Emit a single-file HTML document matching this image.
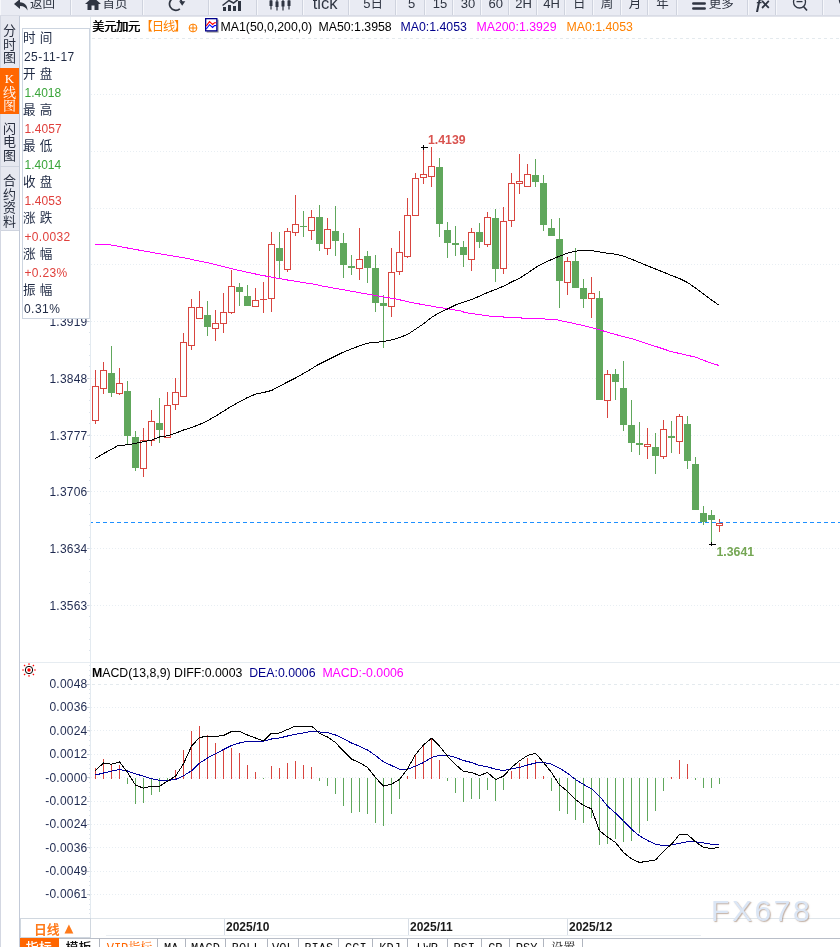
<!DOCTYPE html>
<html lang="zh-CN">
<head>
<meta charset="utf-8">
<title>美元加元 日线</title>
<style>
html,body{margin:0;padding:0;background:#fff;}
body{width:840px;height:947px;position:relative;overflow:hidden;font-family:"Liberation Sans","Noto Sans CJK SC",sans-serif;color:#1f2a44;}
#wrap{position:absolute;left:0;top:0;width:840px;height:947px;overflow:hidden;background:#fff;}
#toolbar{position:absolute;left:0;top:0;width:840px;height:17px;background:linear-gradient(#e9ebf3 0,#e9ebf3 15px,#d9dce6 15px,#d9dce6 16px,#e2e4eb 16px,#e2e4eb 17px);box-sizing:border-box;overflow:hidden;}
.tb{position:absolute;top:0;height:15px;box-sizing:border-box;border-left:1px solid #f6f7fb;border-right:1px solid #cfd3de;overflow:hidden;color:#2f3542;}
.tb span{position:absolute;top:-5px;font-size:13px;line-height:18px;white-space:nowrap;}
.tb span.c{font-size:12.5px;top:-5px;}
.tb span span.c2{position:static;font-size:12.5px;}
.tb .ic{position:absolute;}
#side{position:absolute;left:0;top:16px;width:20px;height:931px;background:#e6e8f0;border-right:1px solid #c3cad8;box-sizing:border-box;}
#side .edge{position:absolute;left:0;top:0;width:1px;height:100%;background:#d3d7e2;}
.stab{position:absolute;left:0;width:19px;text-align:center;font-size:13px;line-height:13.6px;color:#2a3040;box-sizing:border-box;}
.stab.on{background:#ff6600;color:#fff;font-family:"Liberation Serif","Noto Serif CJK SC",serif;}
.stab i{display:block;font-style:normal;}
#sidewhite{position:absolute;left:1px;top:214px;width:18px;height:716px;background:#fff;border-top:1px solid #cfd4df;}
#info{position:absolute;left:22px;top:28px;width:68px;height:291px;border:1px solid #cdd5e0;box-sizing:border-box;background:#fff;}
.row{height:18px;line-height:18px;font-size:12.5px;padding-left:1px;white-space:nowrap;}
.row.k{color:#1f2a44;font-size:12.6px;padding-left:0;word-spacing:.6px;}
.row.r.rp{letter-spacing:.32px;}
.row.v{color:#1f2a44;padding-left:1px;position:relative;top:1px;letter-spacing:.45px;font-size:12px;}
.row.g{color:#3aa53a;padding-left:1.5px;position:relative;top:1px;letter-spacing:0;font-size:12px;}
.row.r{color:#e0403c;padding-left:1.5px;position:relative;top:1px;letter-spacing:.1px;font-size:12px;}
#title{position:absolute;left:0;top:19.3px;height:16px;width:840px;font-size:12.3px;line-height:16px;white-space:nowrap;}
#title span{position:absolute;top:0;}
.yl{position:absolute;left:20px;width:67.4px;letter-spacing:.2px;text-align:right;font-size:12px;line-height:16px;color:#1f2a50;}
#axis{position:absolute;left:90px;top:16px;width:1px;height:903px;background:#e3eaf0;}
#sep{position:absolute;left:20px;top:662px;width:820px;height:1px;background:#e6ecf1;}
#bot{position:absolute;left:20px;top:918px;width:820px;height:1px;background:#dfe5ea;}
#period{position:absolute;left:20px;top:918px;width:71px;height:20px;border:1px solid #d0d7df;box-sizing:border-box;background:#fff;color:#ff7a1a;font-weight:bold;font-size:12.8px;line-height:20px;}
.dl{position:absolute;top:919px;font-size:12px;font-weight:bold;line-height:16px;color:#1a1a1a;border-left:1px solid #d8dee6;padding-left:1px;}
#tabs{position:absolute;left:20px;top:938px;width:820px;height:9px;border-top:1px solid #b9bec8;box-sizing:border-box;background:#fff;}
.tab{position:absolute;top:938px;height:9px;box-sizing:border-box;border-right:1px solid #b0b5bf;border-top:1px solid #b9bec8;text-align:center;font-size:12px;line-height:14px;overflow:hidden;font-family:"Liberation Mono","Noto Serif CJK SC",serif;color:#111;background:#fff;padding-top:2.5px;}
.tab.on{background:#ff6600;color:#fff;border-color:#ff6600;font-family:"Liberation Sans","Noto Sans CJK SC",sans-serif;font-size:13px;font-weight:500;padding-top:2px;}
.tab.b{font-family:"Liberation Sans","Noto Sans CJK SC",sans-serif;font-size:13px;font-weight:500;padding-top:2px;}
.tab.vip{color:#ff6600;padding-left:3px;}
#wm{position:absolute;left:711px;top:894px;font-size:30px;line-height:34px;font-family:"Liberation Sans",sans-serif;letter-spacing:2.6px;color:#dbe6f5;text-shadow:1px 1px 1.2px rgba(150,120,100,.6);}
</style>
</head>
<body>
<div id="wrap">
<svg width="840" height="947" viewBox="0 0 840 947" style="position:absolute;left:0;top:0" shape-rendering="crispEdges">
<line x1="92" y1="38.5" x2="840" y2="38.5" stroke="#e4eaee" stroke-width="1" stroke-dasharray="3 3"/>
<line x1="91" y1="94.5" x2="840" y2="94.5" stroke="#e8eef3" stroke-width="1" stroke-dasharray="1 2"/>
<line x1="91" y1="151.5" x2="840" y2="151.5" stroke="#e8eef3" stroke-width="1" stroke-dasharray="1 2"/>
<line x1="91" y1="208.5" x2="840" y2="208.5" stroke="#e8eef3" stroke-width="1" stroke-dasharray="1 2"/>
<line x1="91" y1="264.5" x2="840" y2="264.5" stroke="#e8eef3" stroke-width="1" stroke-dasharray="1 2"/>
<line x1="91" y1="321.5" x2="840" y2="321.5" stroke="#e8eef3" stroke-width="1" stroke-dasharray="1 2"/>
<line x1="91" y1="378.5" x2="840" y2="378.5" stroke="#e8eef3" stroke-width="1" stroke-dasharray="1 2"/>
<line x1="91" y1="435.5" x2="840" y2="435.5" stroke="#e8eef3" stroke-width="1" stroke-dasharray="1 2"/>
<line x1="91" y1="491.5" x2="840" y2="491.5" stroke="#e8eef3" stroke-width="1" stroke-dasharray="1 2"/>
<line x1="91" y1="548.5" x2="840" y2="548.5" stroke="#e8eef3" stroke-width="1" stroke-dasharray="1 2"/>
<line x1="91" y1="605.5" x2="840" y2="605.5" stroke="#e8eef3" stroke-width="1" stroke-dasharray="1 2"/>
<line x1="92" y1="684.5" x2="840" y2="684.5" stroke="#e4eaee" stroke-width="1" stroke-dasharray="3 3"/>
<line x1="91" y1="707.5" x2="840" y2="707.5" stroke="#e8eef3" stroke-width="1" stroke-dasharray="1 2"/>
<line x1="91" y1="730.5" x2="840" y2="730.5" stroke="#e8eef3" stroke-width="1" stroke-dasharray="1 2"/>
<line x1="91" y1="754.5" x2="840" y2="754.5" stroke="#e8eef3" stroke-width="1" stroke-dasharray="1 2"/>
<line x1="91" y1="777.5" x2="840" y2="777.5" stroke="#e8eef3" stroke-width="1" stroke-dasharray="1 2"/>
<line x1="91" y1="801.5" x2="840" y2="801.5" stroke="#e8eef3" stroke-width="1" stroke-dasharray="1 2"/>
<line x1="91" y1="824.5" x2="840" y2="824.5" stroke="#e8eef3" stroke-width="1" stroke-dasharray="1 2"/>
<line x1="91" y1="847.5" x2="840" y2="847.5" stroke="#e8eef3" stroke-width="1" stroke-dasharray="1 2"/>
<line x1="91" y1="871.5" x2="840" y2="871.5" stroke="#e8eef3" stroke-width="1" stroke-dasharray="1 2"/>
<line x1="91" y1="894.5" x2="840" y2="894.5" stroke="#e8eef3" stroke-width="1" stroke-dasharray="1 2"/>
<rect x="95" y="370" width="1" height="16" fill="#d8453f"/>
<rect x="95" y="421" width="1" height="3" fill="#d8453f"/>
<rect x="92.5" y="386.5" width="6" height="34" fill="#fff" stroke="#d8453f" stroke-width="1"/>
<rect x="103" y="362" width="1" height="8" fill="#d8453f"/>
<rect x="103" y="389" width="1" height="5" fill="#d8453f"/>
<rect x="100.5" y="370.5" width="6" height="18" fill="#fff" stroke="#d8453f" stroke-width="1"/>
<rect x="111" y="346" width="1" height="51" fill="#60a75c"/>
<rect x="108" y="373" width="7" height="20" fill="#60a75c"/>
<rect x="119" y="368" width="1" height="15" fill="#d8453f"/>
<rect x="119" y="394" width="1" height="1" fill="#d8453f"/>
<rect x="116.5" y="383.5" width="6" height="10" fill="#fff" stroke="#d8453f" stroke-width="1"/>
<rect x="127" y="381" width="1" height="63" fill="#60a75c"/>
<rect x="124" y="391" width="7" height="45" fill="#60a75c"/>
<rect x="135" y="431" width="1" height="40" fill="#60a75c"/>
<rect x="132" y="437" width="7" height="31" fill="#60a75c"/>
<rect x="143" y="428" width="1" height="12" fill="#d8453f"/>
<rect x="143" y="469" width="1" height="8" fill="#d8453f"/>
<rect x="140.5" y="440.5" width="6" height="28" fill="#fff" stroke="#d8453f" stroke-width="1"/>
<rect x="151" y="410" width="1" height="11" fill="#d8453f"/>
<rect x="151" y="441" width="1" height="5" fill="#d8453f"/>
<rect x="148.5" y="421.5" width="6" height="19" fill="#fff" stroke="#d8453f" stroke-width="1"/>
<rect x="159" y="398" width="1" height="45" fill="#60a75c"/>
<rect x="156" y="423" width="7" height="7" fill="#60a75c"/>
<rect x="167" y="392" width="1" height="13" fill="#d8453f"/>
<rect x="164.5" y="405.5" width="6" height="32" fill="#fff" stroke="#d8453f" stroke-width="1"/>
<rect x="175" y="378" width="1" height="14" fill="#d8453f"/>
<rect x="175" y="405" width="1" height="5" fill="#d8453f"/>
<rect x="172.5" y="392.5" width="6" height="12" fill="#fff" stroke="#d8453f" stroke-width="1"/>
<rect x="183" y="333" width="1" height="9" fill="#d8453f"/>
<rect x="180.5" y="342.5" width="6" height="54" fill="#fff" stroke="#d8453f" stroke-width="1"/>
<rect x="191" y="299" width="1" height="8" fill="#d8453f"/>
<rect x="191" y="346" width="1" height="4" fill="#d8453f"/>
<rect x="188.5" y="307.5" width="6" height="38" fill="#fff" stroke="#d8453f" stroke-width="1"/>
<rect x="199" y="291" width="1" height="16" fill="#d8453f"/>
<rect x="196.5" y="307.5" width="6" height="11" fill="#fff" stroke="#d8453f" stroke-width="1"/>
<rect x="207" y="301" width="1" height="35" fill="#60a75c"/>
<rect x="204" y="315" width="7" height="12" fill="#60a75c"/>
<rect x="215" y="310" width="1" height="13" fill="#d8453f"/>
<rect x="215" y="329" width="1" height="12" fill="#d8453f"/>
<rect x="212.5" y="323.5" width="6" height="5" fill="#fff" stroke="#d8453f" stroke-width="1"/>
<rect x="223" y="293" width="1" height="19" fill="#d8453f"/>
<rect x="223" y="324" width="1" height="9" fill="#d8453f"/>
<rect x="220.5" y="312.5" width="6" height="11" fill="#fff" stroke="#d8453f" stroke-width="1"/>
<rect x="231" y="270" width="1" height="16" fill="#d8453f"/>
<rect x="231" y="313" width="1" height="1" fill="#d8453f"/>
<rect x="228.5" y="286.5" width="6" height="26" fill="#fff" stroke="#d8453f" stroke-width="1"/>
<rect x="239" y="283" width="1" height="23" fill="#60a75c"/>
<rect x="236" y="287" width="7" height="5" fill="#60a75c"/>
<rect x="247" y="285" width="1" height="21" fill="#60a75c"/>
<rect x="244" y="296" width="7" height="10" fill="#60a75c"/>
<rect x="255" y="288" width="1" height="12" fill="#d8453f"/>
<rect x="252.5" y="300.5" width="6" height="6" fill="#fff" stroke="#d8453f" stroke-width="1"/>
<rect x="263" y="282" width="1" height="17" fill="#d8453f"/>
<rect x="263" y="300" width="1" height="13" fill="#d8453f"/>
<rect x="260" y="299" width="7" height="1" fill="#d8453f"/>
<rect x="271" y="232" width="1" height="12" fill="#d8453f"/>
<rect x="271" y="299" width="1" height="13" fill="#d8453f"/>
<rect x="268.5" y="244.5" width="6" height="54" fill="#fff" stroke="#d8453f" stroke-width="1"/>
<rect x="279" y="232" width="1" height="46" fill="#60a75c"/>
<rect x="276" y="248" width="7" height="13" fill="#60a75c"/>
<rect x="287" y="228" width="1" height="3" fill="#d8453f"/>
<rect x="287" y="270" width="1" height="2" fill="#d8453f"/>
<rect x="284.5" y="231.5" width="6" height="38" fill="#fff" stroke="#d8453f" stroke-width="1"/>
<rect x="295" y="195" width="1" height="29" fill="#d8453f"/>
<rect x="295" y="233" width="1" height="3" fill="#d8453f"/>
<rect x="292.5" y="224.5" width="6" height="8" fill="#fff" stroke="#d8453f" stroke-width="1"/>
<rect x="303" y="211" width="1" height="26" fill="#60a75c"/>
<rect x="300" y="226" width="7" height="1" fill="#60a75c"/>
<rect x="311" y="210" width="1" height="7" fill="#d8453f"/>
<rect x="311" y="231" width="1" height="9" fill="#d8453f"/>
<rect x="308.5" y="217.5" width="6" height="13" fill="#fff" stroke="#d8453f" stroke-width="1"/>
<rect x="319" y="205" width="1" height="46" fill="#60a75c"/>
<rect x="316" y="217" width="7" height="27" fill="#60a75c"/>
<rect x="327" y="218" width="1" height="11" fill="#d8453f"/>
<rect x="327" y="249" width="1" height="6" fill="#d8453f"/>
<rect x="324.5" y="229.5" width="6" height="19" fill="#fff" stroke="#d8453f" stroke-width="1"/>
<rect x="335" y="206" width="1" height="50" fill="#60a75c"/>
<rect x="332" y="231" width="7" height="10" fill="#60a75c"/>
<rect x="343" y="233" width="1" height="45" fill="#60a75c"/>
<rect x="340" y="243" width="7" height="22" fill="#60a75c"/>
<rect x="351" y="255" width="1" height="20" fill="#60a75c"/>
<rect x="348" y="266" width="7" height="2" fill="#60a75c"/>
<rect x="359" y="228" width="1" height="31" fill="#d8453f"/>
<rect x="359" y="269" width="1" height="11" fill="#d8453f"/>
<rect x="356.5" y="259.5" width="6" height="9" fill="#fff" stroke="#d8453f" stroke-width="1"/>
<rect x="367" y="251" width="1" height="32" fill="#60a75c"/>
<rect x="364" y="256" width="7" height="12" fill="#60a75c"/>
<rect x="375" y="255" width="1" height="57" fill="#60a75c"/>
<rect x="372" y="268" width="7" height="35" fill="#60a75c"/>
<rect x="383" y="295" width="1" height="53" fill="#60a75c"/>
<rect x="380" y="303" width="7" height="3" fill="#60a75c"/>
<rect x="391" y="248" width="1" height="24" fill="#d8453f"/>
<rect x="391" y="307" width="1" height="10" fill="#d8453f"/>
<rect x="388.5" y="272.5" width="6" height="34" fill="#fff" stroke="#d8453f" stroke-width="1"/>
<rect x="399" y="231" width="1" height="21" fill="#d8453f"/>
<rect x="399" y="272" width="1" height="3" fill="#d8453f"/>
<rect x="396.5" y="252.5" width="6" height="19" fill="#fff" stroke="#d8453f" stroke-width="1"/>
<rect x="407" y="198" width="1" height="17" fill="#d8453f"/>
<rect x="407" y="257" width="1" height="1" fill="#d8453f"/>
<rect x="404.5" y="215.5" width="6" height="41" fill="#fff" stroke="#d8453f" stroke-width="1"/>
<rect x="415" y="173" width="1" height="5" fill="#d8453f"/>
<rect x="412.5" y="178.5" width="6" height="37" fill="#fff" stroke="#d8453f" stroke-width="1"/>
<rect x="423" y="147" width="1" height="27" fill="#d8453f"/>
<rect x="423" y="178" width="1" height="6" fill="#d8453f"/>
<rect x="420.5" y="174.5" width="6" height="3" fill="#fff" stroke="#d8453f" stroke-width="1"/>
<rect x="431" y="147" width="1" height="19" fill="#d8453f"/>
<rect x="431" y="177" width="1" height="10" fill="#d8453f"/>
<rect x="428.5" y="166.5" width="6" height="10" fill="#fff" stroke="#d8453f" stroke-width="1"/>
<rect x="439" y="158" width="1" height="79" fill="#60a75c"/>
<rect x="436" y="167" width="7" height="57" fill="#60a75c"/>
<rect x="447" y="222" width="1" height="36" fill="#60a75c"/>
<rect x="444" y="230" width="7" height="13" fill="#60a75c"/>
<rect x="455" y="226" width="1" height="30" fill="#60a75c"/>
<rect x="452" y="243" width="7" height="2" fill="#60a75c"/>
<rect x="463" y="241" width="1" height="26" fill="#60a75c"/>
<rect x="460" y="247" width="7" height="8" fill="#60a75c"/>
<rect x="471" y="228" width="1" height="4" fill="#d8453f"/>
<rect x="471" y="260" width="1" height="11" fill="#d8453f"/>
<rect x="468.5" y="232.5" width="6" height="27" fill="#fff" stroke="#d8453f" stroke-width="1"/>
<rect x="479" y="223" width="1" height="25" fill="#60a75c"/>
<rect x="476" y="232" width="7" height="10" fill="#60a75c"/>
<rect x="487" y="212" width="1" height="5" fill="#d8453f"/>
<rect x="487" y="245" width="1" height="2" fill="#d8453f"/>
<rect x="484.5" y="217.5" width="6" height="27" fill="#fff" stroke="#d8453f" stroke-width="1"/>
<rect x="495" y="209" width="1" height="73" fill="#60a75c"/>
<rect x="492" y="218" width="7" height="51" fill="#60a75c"/>
<rect x="503" y="207" width="1" height="14" fill="#d8453f"/>
<rect x="503" y="269" width="1" height="5" fill="#d8453f"/>
<rect x="500.5" y="221.5" width="6" height="47" fill="#fff" stroke="#d8453f" stroke-width="1"/>
<rect x="511" y="173" width="1" height="10" fill="#d8453f"/>
<rect x="511" y="221" width="1" height="6" fill="#d8453f"/>
<rect x="508.5" y="183.5" width="6" height="37" fill="#fff" stroke="#d8453f" stroke-width="1"/>
<rect x="519" y="154" width="1" height="27" fill="#d8453f"/>
<rect x="519" y="184" width="1" height="10" fill="#d8453f"/>
<rect x="516.5" y="181.5" width="6" height="2" fill="#fff" stroke="#d8453f" stroke-width="1"/>
<rect x="527" y="164" width="1" height="10" fill="#d8453f"/>
<rect x="524.5" y="174.5" width="6" height="12" fill="#fff" stroke="#d8453f" stroke-width="1"/>
<rect x="535" y="159" width="1" height="28" fill="#60a75c"/>
<rect x="532" y="175" width="7" height="7" fill="#60a75c"/>
<rect x="543" y="175" width="1" height="56" fill="#60a75c"/>
<rect x="540" y="183" width="7" height="42" fill="#60a75c"/>
<rect x="551" y="219" width="1" height="17" fill="#60a75c"/>
<rect x="548" y="228" width="7" height="8" fill="#60a75c"/>
<rect x="559" y="218" width="1" height="90" fill="#60a75c"/>
<rect x="556" y="239" width="7" height="42" fill="#60a75c"/>
<rect x="567" y="257" width="1" height="4" fill="#d8453f"/>
<rect x="567" y="283" width="1" height="12" fill="#d8453f"/>
<rect x="564.5" y="261.5" width="6" height="21" fill="#fff" stroke="#d8453f" stroke-width="1"/>
<rect x="575" y="248" width="1" height="40" fill="#60a75c"/>
<rect x="572" y="261" width="7" height="27" fill="#60a75c"/>
<rect x="583" y="279" width="1" height="29" fill="#60a75c"/>
<rect x="580" y="288" width="7" height="11" fill="#60a75c"/>
<rect x="591" y="277" width="1" height="16" fill="#d8453f"/>
<rect x="591" y="299" width="1" height="19" fill="#d8453f"/>
<rect x="588.5" y="293.5" width="6" height="5" fill="#fff" stroke="#d8453f" stroke-width="1"/>
<rect x="599" y="291" width="1" height="109" fill="#60a75c"/>
<rect x="596" y="298" width="7" height="102" fill="#60a75c"/>
<rect x="607" y="370" width="1" height="4" fill="#d8453f"/>
<rect x="607" y="401" width="1" height="17" fill="#d8453f"/>
<rect x="604.5" y="374.5" width="6" height="26" fill="#fff" stroke="#d8453f" stroke-width="1"/>
<rect x="615" y="369" width="1" height="31" fill="#60a75c"/>
<rect x="612" y="374" width="7" height="8" fill="#60a75c"/>
<rect x="623" y="361" width="1" height="70" fill="#60a75c"/>
<rect x="620" y="388" width="7" height="37" fill="#60a75c"/>
<rect x="631" y="400" width="1" height="52" fill="#60a75c"/>
<rect x="628" y="425" width="7" height="18" fill="#60a75c"/>
<rect x="639" y="422" width="1" height="33" fill="#60a75c"/>
<rect x="636" y="443" width="7" height="2" fill="#60a75c"/>
<rect x="647" y="428" width="1" height="16" fill="#d8453f"/>
<rect x="647" y="447" width="1" height="12" fill="#d8453f"/>
<rect x="644.5" y="444.5" width="6" height="2" fill="#fff" stroke="#d8453f" stroke-width="1"/>
<rect x="655" y="433" width="1" height="41" fill="#60a75c"/>
<rect x="652" y="447" width="7" height="9" fill="#60a75c"/>
<rect x="663" y="420" width="1" height="9" fill="#d8453f"/>
<rect x="663" y="457" width="1" height="2" fill="#d8453f"/>
<rect x="660.5" y="429.5" width="6" height="27" fill="#fff" stroke="#d8453f" stroke-width="1"/>
<rect x="671" y="421" width="1" height="32" fill="#60a75c"/>
<rect x="668" y="436" width="7" height="2" fill="#60a75c"/>
<rect x="679" y="414" width="1" height="2" fill="#d8453f"/>
<rect x="679" y="442" width="1" height="12" fill="#d8453f"/>
<rect x="676.5" y="416.5" width="6" height="25" fill="#fff" stroke="#d8453f" stroke-width="1"/>
<rect x="687" y="416" width="1" height="53" fill="#60a75c"/>
<rect x="684" y="424" width="7" height="37" fill="#60a75c"/>
<rect x="695" y="457" width="1" height="53" fill="#60a75c"/>
<rect x="692" y="464" width="7" height="46" fill="#60a75c"/>
<rect x="703" y="506" width="1" height="19" fill="#60a75c"/>
<rect x="700" y="513" width="7" height="9" fill="#60a75c"/>
<rect x="711" y="510" width="1" height="35" fill="#60a75c"/>
<rect x="708" y="515" width="7" height="5" fill="#60a75c"/>
<rect x="719" y="519" width="1" height="4" fill="#d8453f"/>
<rect x="719" y="526" width="1" height="6" fill="#d8453f"/>
<rect x="716.5" y="523.5" width="6" height="2" fill="#fff" stroke="#d8453f" stroke-width="1"/>
<polyline points="95.2,244.1 106.2,244.1 119.3,246.5 132.4,248.9 158.6,253.6 184.8,258.0 211.0,263.5 237.2,270.0 260.0,275.0 285.0,279.6 296.0,281.4 316.0,284.5 319.8,285.6 343.6,289.8 367.4,294.1 385.0,297.2 396.0,298.9 410.0,302.3 435.0,306.8 460.0,310.8 465.0,312.5 490.0,316.2 515.0,317.7 540.0,318.9 554.0,319.2 565.0,321.6 582.5,325.3 595.0,328.5 607.5,332.2 620.0,335.7 632.5,338.9 645.0,343.0 657.5,347.0 670.0,351.2 682.5,354.2 695.0,357.0 707.5,361.8 719.0,365.5" fill="none" stroke="#ff00ff" stroke-width="1" stroke-linejoin="round"/>
<polyline points="95.2,458.5 103.5,453.6 111.5,449.3 118.2,445.5 127.5,444.8 135.5,443.4 143.5,441.6 151.5,440.1 159.5,437.0 167.5,435.8 175.5,433.2 183.5,430.0 191.5,427.5 199.5,424.5 207.5,420.8 215.5,416.2 223.5,411.2 231.5,406.2 239.5,401.8 247.5,397.5 255.5,394.2 263.5,392.5 271.5,390.5 279.5,386.2 287.5,382.0 295.5,378.0 303.5,373.5 311.5,368.8 317.5,365.0 327.5,360.0 342.5,352.5 355.0,347.5 367.5,343.2 383.5,341.5 391.5,340.0 399.5,337.5 407.5,334.5 415.5,329.2 423.5,323.8 431.5,317.5 439.5,312.5 447.5,309.0 455.5,305.0 463.5,302.2 471.5,299.5 479.5,296.2 487.5,292.5 495.5,289.5 503.5,286.2 511.5,282.0 519.5,278.2 527.5,273.2 535.5,267.5 543.5,263.2 551.5,259.5 559.5,256.2 567.5,253.2 575.5,251.2 583.5,250.2 591.5,250.5 599.5,252.0 607.5,253.2 615.5,254.2 623.5,256.2 631.5,259.2 639.5,262.5 647.5,265.8 655.5,269.0 663.5,272.2 671.5,275.5 679.5,278.5 687.5,282.5 695.5,288.0 703.5,294.0 711.5,300.0 719.5,305.5" fill="none" stroke="#000" stroke-width="1" stroke-linejoin="round"/>
<line x1="91" y1="522.5" x2="840" y2="522.5" stroke="#1e90ff" stroke-width="1.2" stroke-dasharray="4 3" stroke-dashoffset="2"/>
<path d="M421 147.5h7M423.5 145v5" stroke="#000" stroke-width="1" fill="none"/>
<path d="M709 544.5h7M711.5 542v4" stroke="#000" stroke-width="1" fill="none"/>
<text x="428" y="143.6" font-family="Liberation Sans, sans-serif" font-size="12.3" font-weight="bold" fill="#d9534f">1.4139</text>
<text x="716.5" y="556" font-family="Liberation Sans, sans-serif" font-size="12.3" font-weight="bold" fill="#74a653">1.3641</text>
<rect x="95" y="768" width="1" height="11" fill="#d8453f"/>
<rect x="103" y="759" width="1" height="20" fill="#d8453f"/>
<rect x="111" y="765" width="1" height="14" fill="#d8453f"/>
<rect x="119" y="765" width="1" height="14" fill="#d8453f"/>
<rect x="127" y="778" width="1" height="6" fill="#60a75c"/>
<rect x="135" y="778" width="1" height="26" fill="#60a75c"/>
<rect x="143" y="778" width="1" height="25" fill="#60a75c"/>
<rect x="151" y="778" width="1" height="17" fill="#60a75c"/>
<rect x="159" y="778" width="1" height="14" fill="#60a75c"/>
<rect x="167" y="778" width="1" height="3" fill="#60a75c"/>
<rect x="175" y="770" width="1" height="9" fill="#d8453f"/>
<rect x="183" y="750" width="1" height="29" fill="#d8453f"/>
<rect x="191" y="731" width="1" height="48" fill="#d8453f"/>
<rect x="199" y="726" width="1" height="53" fill="#d8453f"/>
<rect x="207" y="735" width="1" height="44" fill="#d8453f"/>
<rect x="215" y="743" width="1" height="36" fill="#d8453f"/>
<rect x="223" y="749" width="1" height="30" fill="#d8453f"/>
<rect x="231" y="748" width="1" height="31" fill="#d8453f"/>
<rect x="239" y="753" width="1" height="26" fill="#d8453f"/>
<rect x="247" y="765" width="1" height="14" fill="#d8453f"/>
<rect x="255" y="772" width="1" height="7" fill="#d8453f"/>
<rect x="263" y="778" width="1" height="1" fill="#60a75c"/>
<rect x="271" y="766" width="1" height="13" fill="#d8453f"/>
<rect x="279" y="768" width="1" height="11" fill="#d8453f"/>
<rect x="287" y="763" width="1" height="16" fill="#d8453f"/>
<rect x="295" y="761" width="1" height="18" fill="#d8453f"/>
<rect x="303" y="765" width="1" height="14" fill="#d8453f"/>
<rect x="311" y="767" width="1" height="12" fill="#d8453f"/>
<rect x="319" y="778" width="1" height="3" fill="#60a75c"/>
<rect x="327" y="778" width="1" height="8" fill="#60a75c"/>
<rect x="335" y="778" width="1" height="16" fill="#60a75c"/>
<rect x="343" y="778" width="1" height="28" fill="#60a75c"/>
<rect x="351" y="778" width="1" height="35" fill="#60a75c"/>
<rect x="359" y="778" width="1" height="34" fill="#60a75c"/>
<rect x="367" y="778" width="1" height="36" fill="#60a75c"/>
<rect x="375" y="778" width="1" height="45" fill="#60a75c"/>
<rect x="383" y="778" width="1" height="48" fill="#60a75c"/>
<rect x="391" y="778" width="1" height="36" fill="#60a75c"/>
<rect x="399" y="778" width="1" height="21" fill="#60a75c"/>
<rect x="407" y="776" width="1" height="3" fill="#d8453f"/>
<rect x="415" y="755" width="1" height="24" fill="#d8453f"/>
<rect x="423" y="744" width="1" height="35" fill="#d8453f"/>
<rect x="431" y="739" width="1" height="40" fill="#d8453f"/>
<rect x="439" y="760" width="1" height="19" fill="#d8453f"/>
<rect x="447" y="778" width="1" height="3" fill="#60a75c"/>
<rect x="455" y="778" width="1" height="15" fill="#60a75c"/>
<rect x="463" y="778" width="1" height="24" fill="#60a75c"/>
<rect x="471" y="778" width="1" height="21" fill="#60a75c"/>
<rect x="479" y="778" width="1" height="21" fill="#60a75c"/>
<rect x="487" y="778" width="1" height="12" fill="#60a75c"/>
<rect x="495" y="778" width="1" height="23" fill="#60a75c"/>
<rect x="503" y="778" width="1" height="12" fill="#60a75c"/>
<rect x="511" y="771" width="1" height="8" fill="#d8453f"/>
<rect x="519" y="763" width="1" height="16" fill="#d8453f"/>
<rect x="527" y="758" width="1" height="21" fill="#d8453f"/>
<rect x="535" y="760" width="1" height="19" fill="#d8453f"/>
<rect x="543" y="776" width="1" height="3" fill="#d8453f"/>
<rect x="551" y="778" width="1" height="13" fill="#60a75c"/>
<rect x="559" y="778" width="1" height="33" fill="#60a75c"/>
<rect x="567" y="778" width="1" height="36" fill="#60a75c"/>
<rect x="575" y="778" width="1" height="42" fill="#60a75c"/>
<rect x="583" y="778" width="1" height="45" fill="#60a75c"/>
<rect x="591" y="778" width="1" height="40" fill="#60a75c"/>
<rect x="599" y="778" width="1" height="67" fill="#60a75c"/>
<rect x="607" y="778" width="1" height="66" fill="#60a75c"/>
<rect x="615" y="778" width="1" height="61" fill="#60a75c"/>
<rect x="623" y="778" width="1" height="64" fill="#60a75c"/>
<rect x="631" y="778" width="1" height="63" fill="#60a75c"/>
<rect x="639" y="778" width="1" height="55" fill="#60a75c"/>
<rect x="647" y="778" width="1" height="43" fill="#60a75c"/>
<rect x="655" y="778" width="1" height="33" fill="#60a75c"/>
<rect x="663" y="778" width="1" height="13" fill="#60a75c"/>
<rect x="671" y="777" width="1" height="2" fill="#d8453f"/>
<rect x="679" y="760" width="1" height="19" fill="#d8453f"/>
<rect x="687" y="764" width="1" height="15" fill="#d8453f"/>
<rect x="695" y="778" width="1" height="2" fill="#60a75c"/>
<rect x="703" y="778" width="1" height="10" fill="#60a75c"/>
<rect x="711" y="778" width="1" height="10" fill="#60a75c"/>
<rect x="719" y="778" width="1" height="6" fill="#60a75c"/>
<polyline points="95.5,775.0 103.5,773.0 111.5,771.2 119.5,769.5 127.5,771.0 135.5,773.8 143.5,776.2 151.5,778.8 159.5,780.2 167.5,780.5 175.5,779.5 183.5,775.8 191.5,770.8 199.5,763.2 207.5,758.0 215.5,753.8 223.5,749.5 231.5,745.5 239.5,743.0 247.5,741.2 255.5,741.2 263.5,741.2 271.5,739.0 279.5,738.0 287.5,736.0 295.5,734.2 303.5,733.0 311.5,731.2 319.5,732.0 327.5,732.5 335.5,735.0 343.5,738.8 351.5,743.0 359.5,746.2 367.5,750.0 375.5,755.5 383.5,761.8 391.5,765.5 399.5,769.2 407.5,769.2 415.5,766.2 423.5,762.5 431.5,757.5 439.5,755.2 447.5,755.2 455.5,757.5 463.5,760.5 471.5,762.5 479.5,765.5 487.5,766.8 495.5,769.2 503.5,770.5 511.5,768.8 519.5,767.5 527.5,765.0 535.5,763.0 543.5,762.5 551.5,764.2 559.5,768.2 567.5,773.2 575.5,779.5 583.5,784.5 591.5,788.8 599.5,796.2 607.5,806.2 615.5,813.0 623.5,821.2 631.5,829.2 639.5,835.8 647.5,840.5 655.5,844.2 663.5,845.5 671.5,845.0 679.5,843.2 687.5,841.8 695.5,841.8 703.5,843.0 711.5,844.2 719.5,844.5" fill="none" stroke="#00009c" stroke-width="1" stroke-linejoin="round"/>
<polyline points="95.5,770.5 103.5,763.0 111.5,764.2 119.5,762.0 127.5,772.5 135.5,785.0 143.5,788.2 151.5,786.2 159.5,786.2 167.5,781.2 175.5,776.2 183.5,763.8 191.5,746.2 199.5,737.5 207.5,736.2 215.5,736.5 223.5,735.5 231.5,731.5 239.5,731.5 247.5,735.0 255.5,738.0 263.5,740.8 271.5,733.2 279.5,733.0 287.5,729.5 295.5,726.0 303.5,726.0 311.5,726.0 319.5,733.2 327.5,737.0 335.5,742.5 343.5,751.2 351.5,759.2 359.5,762.5 367.5,767.5 375.5,777.5 383.5,786.2 391.5,784.2 399.5,779.5 407.5,768.8 415.5,754.5 423.5,745.0 431.5,738.2 439.5,746.2 447.5,756.2 455.5,764.5 463.5,771.5 471.5,772.5 479.5,775.5 487.5,772.5 495.5,779.5 503.5,776.2 511.5,767.5 519.5,760.8 527.5,755.5 535.5,753.2 543.5,762.5 551.5,772.5 559.5,785.0 567.5,791.2 575.5,799.5 583.5,805.5 591.5,808.8 599.5,830.8 607.5,837.0 615.5,842.5 623.5,852.5 631.5,858.8 639.5,862.5 647.5,861.2 655.5,860.0 663.5,851.2 671.5,844.2 679.5,834.5 687.5,834.5 695.5,841.8 703.5,847.5 711.5,848.5 719.5,847.5" fill="none" stroke="#000" stroke-width="1" stroke-linejoin="round"/>
<line x1="87" y1="321.5" x2="90" y2="321.5" stroke="#c3cbd6" stroke-width="1"/>
<line x1="87" y1="378.5" x2="90" y2="378.5" stroke="#c3cbd6" stroke-width="1"/>
<line x1="87" y1="435.5" x2="90" y2="435.5" stroke="#c3cbd6" stroke-width="1"/>
<line x1="87" y1="491.5" x2="90" y2="491.5" stroke="#c3cbd6" stroke-width="1"/>
<line x1="87" y1="548.5" x2="90" y2="548.5" stroke="#c3cbd6" stroke-width="1"/>
<line x1="87" y1="605.5" x2="90" y2="605.5" stroke="#c3cbd6" stroke-width="1"/>
<line x1="87" y1="684.5" x2="90" y2="684.5" stroke="#c3cbd6" stroke-width="1"/>
<line x1="87" y1="707.5" x2="90" y2="707.5" stroke="#c3cbd6" stroke-width="1"/>
<line x1="87" y1="730.5" x2="90" y2="730.5" stroke="#c3cbd6" stroke-width="1"/>
<line x1="87" y1="754.5" x2="90" y2="754.5" stroke="#c3cbd6" stroke-width="1"/>
<line x1="87" y1="777.5" x2="90" y2="777.5" stroke="#c3cbd6" stroke-width="1"/>
<line x1="87" y1="801.5" x2="90" y2="801.5" stroke="#c3cbd6" stroke-width="1"/>
<line x1="87" y1="824.5" x2="90" y2="824.5" stroke="#c3cbd6" stroke-width="1"/>
<line x1="87" y1="847.5" x2="90" y2="847.5" stroke="#c3cbd6" stroke-width="1"/>
<line x1="87" y1="871.5" x2="90" y2="871.5" stroke="#c3cbd6" stroke-width="1"/>
<line x1="87" y1="894.5" x2="90" y2="894.5" stroke="#c3cbd6" stroke-width="1"/>
<rect x="89" y="49" width="1" height="1" fill="#dde4ec"/>
<rect x="89" y="60" width="1" height="1" fill="#dde4ec"/>
<rect x="89" y="71" width="1" height="1" fill="#dde4ec"/>
<rect x="89" y="83" width="1" height="1" fill="#dde4ec"/>
<rect x="89" y="94" width="1" height="1" fill="#dde4ec"/>
<rect x="89" y="105" width="1" height="1" fill="#dde4ec"/>
<rect x="89" y="117" width="1" height="1" fill="#dde4ec"/>
<rect x="89" y="128" width="1" height="1" fill="#dde4ec"/>
<rect x="89" y="139" width="1" height="1" fill="#dde4ec"/>
<rect x="89" y="151" width="1" height="1" fill="#dde4ec"/>
<rect x="89" y="162" width="1" height="1" fill="#dde4ec"/>
<rect x="89" y="174" width="1" height="1" fill="#dde4ec"/>
<rect x="89" y="185" width="1" height="1" fill="#dde4ec"/>
<rect x="89" y="196" width="1" height="1" fill="#dde4ec"/>
<rect x="89" y="208" width="1" height="1" fill="#dde4ec"/>
<rect x="89" y="219" width="1" height="1" fill="#dde4ec"/>
<rect x="89" y="230" width="1" height="1" fill="#dde4ec"/>
<rect x="89" y="242" width="1" height="1" fill="#dde4ec"/>
<rect x="89" y="253" width="1" height="1" fill="#dde4ec"/>
<rect x="89" y="264" width="1" height="1" fill="#dde4ec"/>
<rect x="89" y="276" width="1" height="1" fill="#dde4ec"/>
<rect x="89" y="287" width="1" height="1" fill="#dde4ec"/>
<rect x="89" y="298" width="1" height="1" fill="#dde4ec"/>
<rect x="89" y="310" width="1" height="1" fill="#dde4ec"/>
<rect x="89" y="321" width="1" height="1" fill="#dde4ec"/>
<rect x="89" y="332" width="1" height="1" fill="#dde4ec"/>
<rect x="89" y="344" width="1" height="1" fill="#dde4ec"/>
<rect x="89" y="355" width="1" height="1" fill="#dde4ec"/>
<rect x="89" y="366" width="1" height="1" fill="#dde4ec"/>
<rect x="89" y="378" width="1" height="1" fill="#dde4ec"/>
<rect x="89" y="389" width="1" height="1" fill="#dde4ec"/>
<rect x="89" y="400" width="1" height="1" fill="#dde4ec"/>
<rect x="89" y="412" width="1" height="1" fill="#dde4ec"/>
<rect x="89" y="423" width="1" height="1" fill="#dde4ec"/>
<rect x="89" y="434" width="1" height="1" fill="#dde4ec"/>
<rect x="89" y="446" width="1" height="1" fill="#dde4ec"/>
<rect x="89" y="457" width="1" height="1" fill="#dde4ec"/>
<rect x="89" y="468" width="1" height="1" fill="#dde4ec"/>
<rect x="89" y="480" width="1" height="1" fill="#dde4ec"/>
<rect x="89" y="491" width="1" height="1" fill="#dde4ec"/>
<rect x="89" y="503" width="1" height="1" fill="#dde4ec"/>
<rect x="89" y="514" width="1" height="1" fill="#dde4ec"/>
<rect x="89" y="525" width="1" height="1" fill="#dde4ec"/>
<rect x="89" y="537" width="1" height="1" fill="#dde4ec"/>
<rect x="89" y="548" width="1" height="1" fill="#dde4ec"/>
<rect x="89" y="559" width="1" height="1" fill="#dde4ec"/>
<rect x="89" y="571" width="1" height="1" fill="#dde4ec"/>
<rect x="89" y="582" width="1" height="1" fill="#dde4ec"/>
<rect x="89" y="593" width="1" height="1" fill="#dde4ec"/>
<rect x="89" y="605" width="1" height="1" fill="#dde4ec"/>
<rect x="89" y="616" width="1" height="1" fill="#dde4ec"/>
<rect x="89" y="627" width="1" height="1" fill="#dde4ec"/>
<rect x="89" y="639" width="1" height="1" fill="#dde4ec"/>
<rect x="89" y="650" width="1" height="1" fill="#dde4ec"/>
<rect x="89" y="665" width="1" height="1" fill="#dde4ec"/>
<rect x="89" y="670" width="1" height="1" fill="#dde4ec"/>
<rect x="89" y="675" width="1" height="1" fill="#dde4ec"/>
<rect x="89" y="679" width="1" height="1" fill="#dde4ec"/>
<rect x="89" y="684" width="1" height="1" fill="#dde4ec"/>
<rect x="89" y="689" width="1" height="1" fill="#dde4ec"/>
<rect x="89" y="693" width="1" height="1" fill="#dde4ec"/>
<rect x="89" y="698" width="1" height="1" fill="#dde4ec"/>
<rect x="89" y="703" width="1" height="1" fill="#dde4ec"/>
<rect x="89" y="707" width="1" height="1" fill="#dde4ec"/>
<rect x="89" y="712" width="1" height="1" fill="#dde4ec"/>
<rect x="89" y="717" width="1" height="1" fill="#dde4ec"/>
<rect x="89" y="721" width="1" height="1" fill="#dde4ec"/>
<rect x="89" y="726" width="1" height="1" fill="#dde4ec"/>
<rect x="89" y="731" width="1" height="1" fill="#dde4ec"/>
<rect x="89" y="735" width="1" height="1" fill="#dde4ec"/>
<rect x="89" y="740" width="1" height="1" fill="#dde4ec"/>
<rect x="89" y="745" width="1" height="1" fill="#dde4ec"/>
<rect x="89" y="750" width="1" height="1" fill="#dde4ec"/>
<rect x="89" y="754" width="1" height="1" fill="#dde4ec"/>
<rect x="89" y="759" width="1" height="1" fill="#dde4ec"/>
<rect x="89" y="764" width="1" height="1" fill="#dde4ec"/>
<rect x="89" y="768" width="1" height="1" fill="#dde4ec"/>
<rect x="89" y="773" width="1" height="1" fill="#dde4ec"/>
<rect x="89" y="778" width="1" height="1" fill="#dde4ec"/>
<rect x="89" y="782" width="1" height="1" fill="#dde4ec"/>
<rect x="89" y="787" width="1" height="1" fill="#dde4ec"/>
<rect x="89" y="792" width="1" height="1" fill="#dde4ec"/>
<rect x="89" y="796" width="1" height="1" fill="#dde4ec"/>
<rect x="89" y="801" width="1" height="1" fill="#dde4ec"/>
<rect x="89" y="806" width="1" height="1" fill="#dde4ec"/>
<rect x="89" y="810" width="1" height="1" fill="#dde4ec"/>
<rect x="89" y="815" width="1" height="1" fill="#dde4ec"/>
<rect x="89" y="820" width="1" height="1" fill="#dde4ec"/>
<rect x="89" y="824" width="1" height="1" fill="#dde4ec"/>
<rect x="89" y="829" width="1" height="1" fill="#dde4ec"/>
<rect x="89" y="834" width="1" height="1" fill="#dde4ec"/>
<rect x="89" y="838" width="1" height="1" fill="#dde4ec"/>
<rect x="89" y="843" width="1" height="1" fill="#dde4ec"/>
<rect x="89" y="848" width="1" height="1" fill="#dde4ec"/>
<rect x="89" y="852" width="1" height="1" fill="#dde4ec"/>
<rect x="89" y="857" width="1" height="1" fill="#dde4ec"/>
<rect x="89" y="862" width="1" height="1" fill="#dde4ec"/>
<rect x="89" y="867" width="1" height="1" fill="#dde4ec"/>
<rect x="89" y="871" width="1" height="1" fill="#dde4ec"/>
<rect x="89" y="876" width="1" height="1" fill="#dde4ec"/>
<rect x="89" y="881" width="1" height="1" fill="#dde4ec"/>
<rect x="89" y="885" width="1" height="1" fill="#dde4ec"/>
<rect x="89" y="890" width="1" height="1" fill="#dde4ec"/>
<rect x="89" y="895" width="1" height="1" fill="#dde4ec"/>
<rect x="89" y="899" width="1" height="1" fill="#dde4ec"/>
<rect x="89" y="904" width="1" height="1" fill="#dde4ec"/>
<rect x="89" y="909" width="1" height="1" fill="#dde4ec"/>
<rect x="89" y="913" width="1" height="1" fill="#dde4ec"/>
</svg>
<div id="axis"></div>
<div id="sep"></div>
<div id="bot"></div>
<div style="position:absolute;left:106px;top:935px;width:595px;height:1px;background:#ebeff3"></div>
<div class="yl" style="top:313.5px">1.3919</div>
<div class="yl" style="top:370.5px">1.3848</div>
<div class="yl" style="top:427.5px">1.3777</div>
<div class="yl" style="top:483.5px">1.3706</div>
<div class="yl" style="top:540.5px">1.3634</div>
<div class="yl" style="top:597.5px">1.3563</div>
<div class="yl" style="top:676.0px">0.0048</div>
<div class="yl" style="top:699.0px">0.0036</div>
<div class="yl" style="top:722.5px">0.0024</div>
<div class="yl" style="top:746.0px">0.0012</div>
<div class="yl" style="top:769.5px">-0.0000</div>
<div class="yl" style="top:793.0px">-0.0012</div>
<div class="yl" style="top:816.3px">-0.0024</div>
<div class="yl" style="top:839.5px">-0.0036</div>
<div class="yl" style="top:863.0px">-0.0049</div>
<div class="yl" style="top:886.3px">-0.0061</div>

<div id="toolbar">
<div class="tb" style="left:0px;width:71px"><svg class="ic" width="16" height="14" viewBox="0 0 16 14" style="left:12px;top:-2px"><path d="M7 1 L1 6 L7 11 V8 C11 8 13 9.5 14.5 12.5 C14.5 7.5 12 4.5 7 4.2 Z" fill="#2f3542"/></svg><span class="c" style="left:29px">返回</span></div>
<div class="tb" style="left:71px;width:71.69999999999999px"><svg class="ic" width="16" height="14" viewBox="0 0 16 14" style="left:13px;top:-3px"><path d="M8 0 L0 7 H2.5 V13 H6.5 V8.5 H9.5 V13 H13.5 V7 H16 Z" fill="#2f3542"/></svg><span class="c" style="left:30.5px">首页</span></div>
<div class="tb" style="left:142.7px;width:66.60000000000002px"><svg class="ic" width="20" height="16" viewBox="0 0 20 16" style="left:24px;top:-4px"><path d="M11.85 12.83 A6.3 6.3 0 1 1 14 6.9" fill="none" stroke="#2f3542" stroke-width="1.7"/><path d="M11.1 5.3 L17.3 5.3 L14.2 9.8 Z" fill="#2f3542"/></svg></div>
<div class="tb" style="left:209.3px;width:47.39999999999998px"><svg class="ic" width="20" height="14" viewBox="0 0 20 14" style="left:12px;top:-3.5px"><path d="M1 10h3v4H1zM6 8h3v6H6zM11 9h3v5h-3zM16 4h3v10h-3z" fill="#2f3542"/><path d="M0.5 8.5 L7 3.5 L11.5 6 L18 1" fill="none" stroke="#2f3542" stroke-width="1.5"/></svg></div>
<div class="tb" style="left:256.7px;width:46.0px"><svg class="ic" width="22" height="14" viewBox="0 0 22 14" style="left:11px;top:-3.5px"><path d="M2 0v12.5M8 0v13.5M14 0v13.5M20 0v12.5" stroke="#2f3542" stroke-width="1.2"/><path d="M0.5 3.5h3v5.5h-3zM6.5 4.5h3v5.5h-3zM12.5 4h3v5.5h-3zM18.5 3.5h3v5.5h-3z" fill="#2f3542"/></svg></div>
<div class="tb" style="left:302.7px;width:46.60000000000002px"><span style="left:9px;font-size:16.5px;top:-6px">tick</span></div>
<div class="tb" style="left:349.3px;width:46.69999999999999px"><span style="left:13px">5<span class="c2">日</span></span></div>
<div class="tb" style="left:396px;width:28.69999999999999px"><span style="left:11px">5</span></div>
<div class="tb" style="left:424.7px;width:28.0px"><span style="left:7px">15</span></div>
<div class="tb" style="left:452.7px;width:28.30000000000001px"><span style="left:7px">30</span></div>
<div class="tb" style="left:481px;width:28.30000000000001px"><span style="left:6.5px">60</span></div>
<div class="tb" style="left:509.3px;width:27.999999999999943px"><span style="left:5px">2H</span></div>
<div class="tb" style="left:537.3px;width:27.700000000000045px"><span style="left:5px">4H</span></div>
<div class="tb" style="left:565px;width:27.700000000000045px"><span class="c" style="left:7px">日</span></div>
<div class="tb" style="left:592.7px;width:28.0px"><span class="c" style="left:7px">周</span></div>
<div class="tb" style="left:620.7px;width:27.59999999999991px"><span class="c" style="left:7px">月</span></div>
<div class="tb" style="left:648.3px;width:28.40000000000009px"><span class="c" style="left:7px">年</span></div>
<div class="tb" style="left:676.7px;width:71.59999999999991px"><svg class="ic" width="16" height="10" viewBox="0 0 16 10" style="left:14px;top:0.5px"><path d="M1.3 2.6h11.4M1.3 7.6h11.4" stroke="#2f3542" stroke-width="2.5" stroke-linecap="round"/></svg><span class="c" style="left:31px">更多</span></div>
<div class="tb" style="left:748.3px;width:27.700000000000045px"><span style="left:5.5px;font-weight:bold;font-size:15px;top:-5.5px;">ƒ</span><span style="left:11.5px;font-weight:bold;font-size:16px;top:-4.5px">×</span></div>
<div class="tb" style="left:776px;width:47.299999999999955px"><svg class="ic" width="18" height="18" viewBox="0 0 18 18" style="left:15px;top:-5px"><circle cx="7.5" cy="7" r="6" fill="none" stroke="#2f3542" stroke-width="1.3"/><path d="M4.5 6.6h6" stroke="#2f3542" stroke-width="1.3"/><path d="M11.5 11.5 L15 15.5" stroke="#2f3542" stroke-width="1.7"/></svg></div>
<div class="tb" style="left:823.3px;width:76.70000000000005px"><svg class="ic" width="16" height="18" viewBox="0 0 16 18" style="left:13.5px;top:-5px"><circle cx="7.5" cy="5" r="6" fill="none" stroke="#2f3542" stroke-width="1.5"/></svg></div>

</div>
<div id="side"><div class="edge"></div>
<div class="stab" style="top:8px"><i>分</i><i>时</i><i>图</i></div>
<div class="stab on" style="top:52px;height:46px;padding-top:4.3px"><i>K</i><i>线</i><i>图</i></div>
<div class="stab" style="top:105.5px"><i>闪</i><i>电</i><i>图</i></div>
<div class="stab" style="top:158px"><i>合</i><i>约</i><i>资</i><i>料</i></div>
<div style="position:absolute;left:0;top:150px;width:19px;height:1px;background:#cfd4df"></div>
<div id="sidewhite"></div>
</div>
<div id="info"><div class="row k">时 间</div><div class="row v">25-11-17</div><div class="row k">开 盘</div><div class="row g">1.4018</div><div class="row k">最 高</div><div class="row r">1.4057</div><div class="row k">最 低</div><div class="row g">1.4014</div><div class="row k">收 盘</div><div class="row r">1.4053</div><div class="row k">涨 跌</div><div class="row r rp">+0.0032</div><div class="row k">涨 幅</div><div class="row r rp">+0.23%</div><div class="row k">振 幅</div><div class="row v">0.31%</div></div>
<div id="title">
<span style="left:92px;color:#000;letter-spacing:-0.4px;text-shadow:0.6px 0 0 #000">美元加元</span>
<span style="left:140.5px;color:#ff8000;letter-spacing:-1.1px">【日线】</span>
<svg style="position:absolute;left:187.5px;top:4px" width="10" height="10" viewBox="0 0 10 10"><circle cx="5" cy="5" r="3.9" fill="none" stroke="#ff8000" stroke-width="1"/><path d="M1 5h8M5 1v8" stroke="#ff8000" stroke-width="1"/></svg>
<svg style="position:absolute;left:205px;top:-1.5px" width="14" height="15" viewBox="0 0 14 15"><rect x="1.6" y="1.6" width="12" height="13" fill="#9a9a9a"/><rect x="0.65" y="0.65" width="11.2" height="12.2" fill="#fff" stroke="#00008b" stroke-width="1.3"/><path d="M1.3 7.9 L4.5 3.6 L7.6 6.4 L9.5 4.8 L11.2 4.7" fill="none" stroke="#f00" stroke-width="1.1"/><path d="M1.3 11 L4.5 6.7 L7.6 9.5 L9.5 7.6 L11.2 7.5" fill="none" stroke="#00f" stroke-width="1.1"/></svg>
<span style="left:220.5px;color:#000">MA1(50,0,200,0)</span>
<span style="left:318.5px;color:#000">MA50:1.3958</span>
<span style="left:400.5px;color:#00008b">MA0:1.4053</span>
<span style="left:476.5px;color:#ff00ff">MA200:1.3929</span>
<span style="left:566.5px;color:#ff8000">MA0:1.4053</span>
</div>
<div id="title2" style="position:absolute;left:92px;top:665.3px;font-size:12.3px;line-height:16px;white-space:nowrap;color:#000">
<span><b>M</b>ACD(13,8,9)</span> <span>DIFF:0.0003</span>&nbsp; <span style="color:#00008b">DEA:0.0006</span>&nbsp; <span style="color:#ff00ff">MACD:-0.0006</span>
</div>
<svg style="position:absolute;left:21px;top:661.6px" width="16" height="16" viewBox="0 0 16 16"><g stroke="#f00" stroke-width="1.1"><path d="M8 1.2v1.7M8 13.1v1.7M1.2 8h1.7M13.1 8h1.7M3 3l1.2 1.2M13 3l-1.2 1.2M3 13l1.2-1.2M13 13l-1.2-1.2"/></g><circle cx="8" cy="8" r="3.7" fill="#fff" stroke="#000" stroke-width="1"/><circle cx="8" cy="8" r="1.7" fill="#f00"/></svg>
<div id="period"><span style="position:absolute;left:13px;top:1px">日线</span><span style="position:absolute;left:43.5px;top:-1px;font-size:11.5px;font-family:'DejaVu Sans',sans-serif">▲</span></div>
<div class="dl" style="left:224px">2025/10</div>
<div class="dl" style="left:408px">2025/11</div>
<div class="dl" style="left:567px">2025/12</div>
<div id="tabs"></div>
<div class="tab on" style="left:20px;width:38.5px">指标</div>
<div class="tab b" style="left:58.5px;width:41.0px">模板</div>
<div class="tab vip" style="left:99.5px;width:58.0px">VIP指标</div>
<div class="tab " style="left:157.5px;width:28.5px">MA</div>
<div class="tab " style="left:186px;width:40px">MACD</div>
<div class="tab " style="left:226px;width:41.5px">BOLL</div>
<div class="tab " style="left:267.5px;width:31.80000000000001px">VOL</div>
<div class="tab " style="left:299.3px;width:40.0px">BIAS</div>
<div class="tab " style="left:339.3px;width:34.0px">CCI</div>
<div class="tab " style="left:373.3px;width:34.39999999999998px">KDJ</div>
<div class="tab " style="left:407.7px;width:40.0px">LWR</div>
<div class="tab " style="left:447.7px;width:34.0px">RSI</div>
<div class="tab " style="left:481.7px;width:28.30000000000001px">CR</div>
<div class="tab " style="left:510px;width:34.299999999999955px">PSY</div>
<div class="tab " style="left:544.3px;width:39.0px">设置</div>

<div id="wm">FX678</div>
</div>
</body>
</html>
